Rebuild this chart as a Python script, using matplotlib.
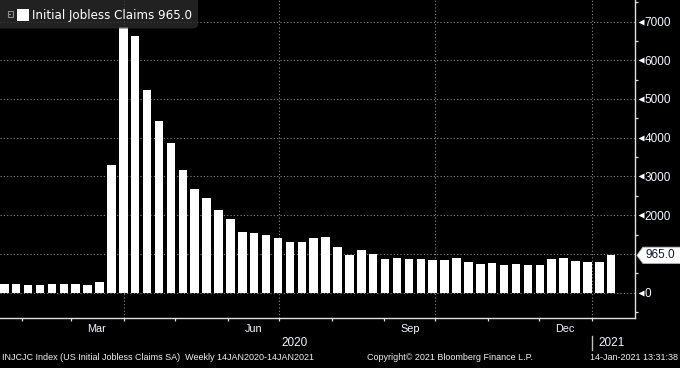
#!/usr/bin/env python3

import datetime as dt

import matplotlib
matplotlib.use('Agg')
import matplotlib.pyplot as plt
import matplotlib.patches as mpatches
import matplotlib.transforms as mtransforms
from matplotlib import font_manager
from matplotlib.ticker import MultipleLocator, NullFormatter
import pandas as pd

# weekly initial jobless claims (thousands, SA), week ending 18 Jan 2020 .. 9 Jan 2021
week_ending = pd.date_range('2020-01-18', '2021-01-09', freq='7D')
claims = [220, 214, 203, 205, 214, 220, 217, 211, 282,
          3307, 6867, 6615, 5237, 4442, 3867, 3176, 2687, 2446, 2123, 1897,
          1566, 1540, 1482, 1413, 1310, 1307, 1422, 1435, 1191, 971, 1104, 1011,
          881, 893, 866, 873, 849, 845, 898, 787, 751, 757, 711, 748, 716, 716,
          862, 885, 806, 790, 784, 965]
last_value = claims[-1]

y_ticks = [0, 1000, 2000, 3000, 4000, 5000, 6000, 7000]
# the 1000 label sits under the last-value flag
y_labels = ['0', '', '2000', '3000', '4000', '5000', '6000', '7000']
month_labels = ['Mar', 'Jun', 'Sep', 'Dec']
month_label_dates = [dt.datetime(2020, 3, 16), dt.datetime(2020, 6, 16),
                     dt.datetime(2020, 9, 16), dt.datetime(2020, 12, 16)]
quarter_lines = [dt.datetime(2020, 4, 1), dt.datetime(2020, 7, 1),
                 dt.datetime(2020, 10, 1), dt.datetime(2021, 1, 1)]
month_starts = pd.date_range('2020-02-01', '2021-01-01', freq='MS')

legend_text = 'Initial Jobless Claims 965.0'
footer_left = 'INJCJC Index (US Initial Jobless Claims SA)  Weekly 14JAN2020-14JAN2021'
footer_mid = 'Copyright\u00a9 2021 Bloomberg Finance L.P.'
footer_right = '14-Jan-2021 13:31:38'

installed = {f.name for f in font_manager.fontManager.ttflist}
narrow = 'Liberation Sans Narrow' if 'Liberation Sans Narrow' in installed else 'Liberation Sans'
axis_font = 'Liberation Sans'

W, H = 680, 368
fig = plt.figure(figsize=(W / 100, H / 100), dpi=100, facecolor='black')
ax = fig.add_axes([0, 1 - 318 / H, 635 / W, 318 / H], facecolor='black')

bar_x = [d + pd.Timedelta(hours=84) for d in week_ending]
ax.bar(bar_x, claims, width=5, color='white', zorder=3)

ax.set_ylim(-653, 7555)
ax.set_xlim(dt.datetime(2020, 1, 19), dt.datetime(2020, 1, 19) + dt.timedelta(days=373.5))

grid_kw = dict(color='#8a8a8a', lw=0.8, ls=(0, (1, 2)), zorder=1)
for v in y_ticks:
    ax.axhline(v, **grid_kw)
for d in quarter_lines:
    ax.axvline(d, **grid_kw)

for side in ('left', 'top'):
    ax.spines[side].set_visible(False)
for side in ('right', 'bottom'):
    ax.spines[side].set_color('#e0e0e0')
    ax.spines[side].set_linewidth(1.0)

# right axis
ax.yaxis.tick_right()
ax.set_yticks(y_ticks)
ax.set_yticklabels(y_labels)
ax.yaxis.set_minor_locator(MultipleLocator(500))
ax.tick_params(axis='y', which='major', length=0, pad=7, labelsize=8.5,
               labelcolor='#f4f8ff')
ax.tick_params(axis='y', which='minor', length=2.5, width=0.9, color='#e0e0e0',
               direction='out')
for lbl in ax.get_yticklabels():
    lbl.set_family(axis_font)

ymark = mtransforms.blended_transform_factory(ax.transAxes, ax.transData)
ax.plot([1.009] * len(y_ticks), y_ticks, ls='none', marker='<', ms=4.5,
        color='white', mec='none', transform=ymark, clip_on=False)

# bottom axis
ax.set_xticks(month_starts)
ax.xaxis.set_major_formatter(NullFormatter())
ax.set_xticks(month_label_dates, minor=True)
ax.set_xticklabels(month_labels, minor=True)
ax.tick_params(axis='x', which='major', length=2.5, width=0.9, color='#e0e0e0',
               direction='out')
ax.tick_params(axis='x', which='minor', length=0, pad=4.5, labelsize=7.8,
               labelcolor='#f4f8ff')
for lbl in ax.get_xticklabels(minor=True):
    lbl.set_family(axis_font)

xfig = mtransforms.blended_transform_factory(ax.transData, fig.transFigure)
ax.text(dt.datetime(2020, 7, 10), 1 - 343 / H, '2020', transform=xfig,
        ha='center', va='center', color='#f4f8ff', fontsize=8.5, family=axis_font)
ax.text(dt.datetime(2021, 1, 13), 1 - 343 / H, '2021', transform=xfig,
        ha='center', va='center', color='#f4f8ff', fontsize=8.5, family=axis_font)
ax.plot([dt.datetime(2021, 1, 1)] * 2, [1 - 336 / H, 1 - 350 / H], color='#c0c0c0',
        lw=1.0, transform=xfig, clip_on=False)

# last value flag
tip = 1.003
px = 1 / 635
poly = [(tip, last_value), (tip + 6 * px, last_value + 210), (1.2, last_value + 210),
        (1.2, last_value - 210), (tip + 6 * px, last_value - 210)]
ax.add_patch(mpatches.Polygon(poly, closed=True, transform=ymark, clip_on=False,
                              facecolor='white', edgecolor='#bbbbbb', lw=0.6, zorder=6))
ax.text(1 + 10 * px, last_value, f'{last_value:.1f}', transform=ymark,
        ha='left', va='center', color='#101828', fontsize=8.5, family=axis_font,
        zorder=7)

# legend box
fig.patches.append(mpatches.FancyBboxPatch(
    (-4 / W, 1 - 28.5 / H), 202 / W, 40 / H, boxstyle='round,pad=0,rounding_size=0.01',
    transform=fig.transFigure, facecolor='#2a2a2a', edgecolor='none', alpha=0.8,
    zorder=5))
fig.patches.append(mpatches.Rectangle(
    (7.5 / W, 1 - 17 / H), 5.5 / W, 5.5 / H, transform=fig.transFigure,
    facecolor='none', edgecolor='#8c8c8c', lw=0.8, zorder=6))
fig.patches.append(mpatches.Rectangle(
    (9.3 / W, 1 - 14.5 / H), 2 / W, 1 / H, transform=fig.transFigure,
    facecolor='#8c8c8c', edgecolor='none', zorder=6))
fig.patches.append(mpatches.Rectangle(
    (17 / W, 1 - 20.5 / H), 11.5 / W, 11.5 / H, transform=fig.transFigure,
    facecolor='white', edgecolor='none', zorder=6))
fig.text(32 / W, 1 - 15 / H, legend_text, ha='left', va='center', color='white',
         fontsize=8.6, family='DejaVu Sans', zorder=7)

# footer
foot_kw = dict(va='center', color='#f0f0f0', fontsize=6.45, family=narrow)
fig.text(2 / W, 1 - 357 / H, footer_left, ha='left', **foot_kw)
fig.text(367 / W, 1 - 357 / H, footer_mid, ha='left', **foot_kw)
fig.text(678 / W, 1 - 357 / H, footer_right, ha='right', **foot_kw)

fig.savefig('out.png', dpi=100, facecolor='black')
